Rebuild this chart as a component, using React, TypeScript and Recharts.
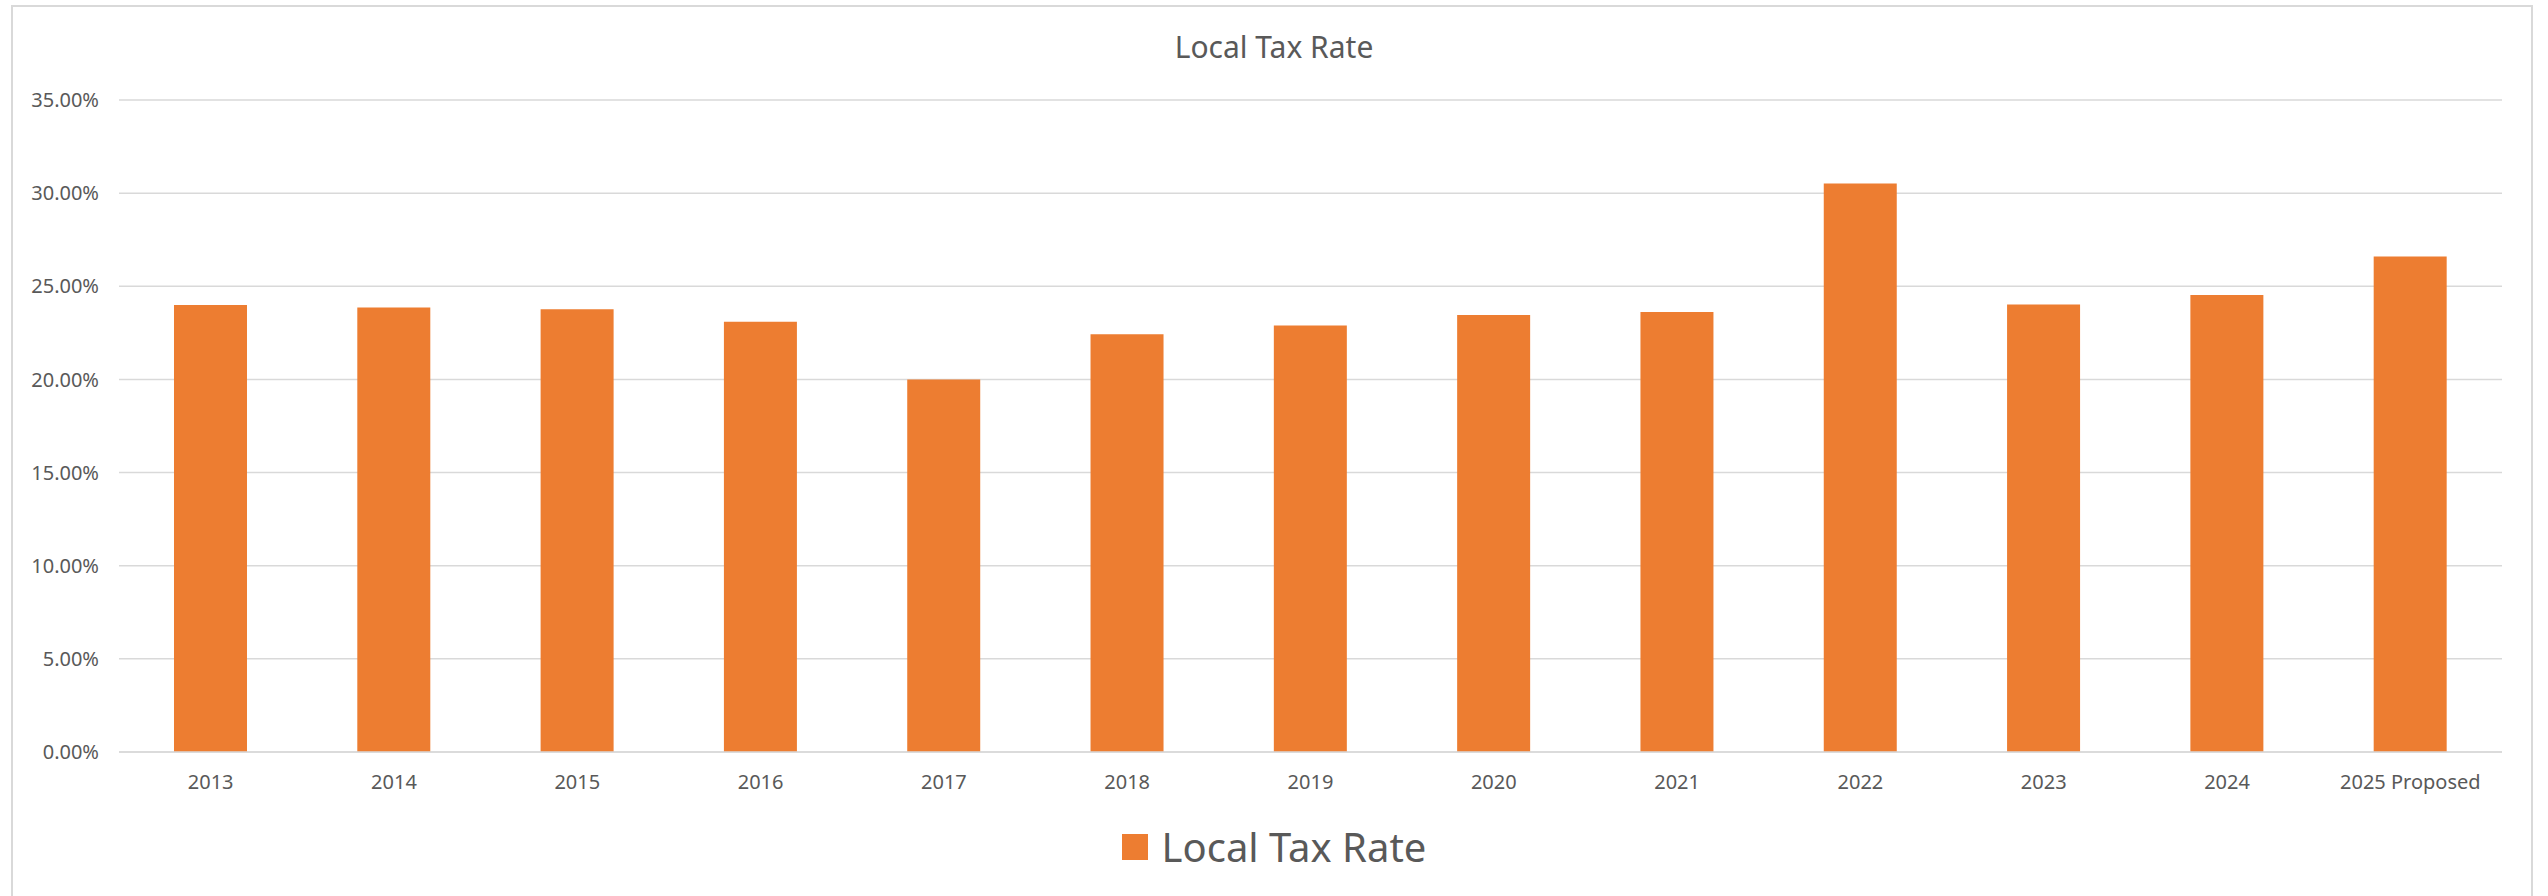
import React from 'react';
import { BarChart, Bar, XAxis, YAxis, CartesianGrid, Legend } from 'recharts';

const years = ['2013', '2014', '2015', '2016', '2017', '2018', '2019', '2020', '2021', '2022', '2023', '2024', '2025 Proposed'];
const localTaxRate = [24.0, 23.86, 23.77, 23.1, 20.0, 22.42, 22.9, 23.46, 23.62, 30.52, 24.02, 24.53, 26.6];
const yTicks = [0, 5, 10, 15, 20, 25, 30, 35];

const data = years.map((year, i) => ({ year, rate: localTaxRate[i] }));

const FONT = '"Noto Sans", sans-serif';
const TEXT = '#595959';
const GRID = '#d9d9d9';
const ORANGE = '#ED7D31';

const LegendContent = () => (
  <div style={{ display: 'flex', justifyContent: 'center', alignItems: 'center', height: 50, fontFamily: FONT }}>
    <div style={{ width: 26, height: 26, background: ORANGE, marginRight: 14 }} />
    <span style={{ fontSize: 40, lineHeight: '40px', color: TEXT }}>Local Tax Rate</span>
  </div>
);

const App: React.FC = () => {
  return (
    <div style={{ position: 'absolute', left: 0, top: 0, width: 2548, height: 896, overflow: 'hidden', background: '#fff' }}>
      <div
        style={{
          position: 'absolute',
          left: 11,
          top: 5,
          width: 2522,
          height: 900,
          border: `2px solid ${GRID}`,
          boxSizing: 'border-box',
        }}
      />
      <div
        style={{
          position: 'absolute',
          left: 0,
          top: 32,
          width: 2548,
          textAlign: 'center',
          fontFamily: FONT,
          fontSize: 30,
          lineHeight: '30px',
          color: TEXT,
        }}
      >
        Local Tax Rate
      </div>
      <div style={{ position: 'absolute', left: 0, top: 0 }}>
        <BarChart
          width={2548}
          height={896}
          data={data}
          margin={{ top: 100, right: 46, bottom: 104, left: 0 }}
          barCategoryGap="30%"
        >
          <CartesianGrid vertical={false} stroke={GRID} strokeWidth={1.5} />
          <XAxis
            dataKey="year"
            height={40}
            tickLine={false}
            axisLine={{ stroke: GRID, strokeWidth: 1.5 }}
            tickMargin={17}
            interval={0}
            tick={{ fill: TEXT, fontSize: 20, fontFamily: FONT }}
          />
          <YAxis
            width={119}
            domain={[0, 35]}
            ticks={yTicks}
            axisLine={false}
            tickLine={false}
            tickMargin={14}
            tickFormatter={(v: number) => `${v.toFixed(2)}%`}
            tick={{ fill: TEXT, fontSize: 20, fontFamily: FONT }}
          />
          <Legend
            verticalAlign="middle"
            align="center"
            layout="horizontal"
            wrapperStyle={{ top: 822, left: 0, width: 2548 }}
            content={<LegendContent />}
          />
          <Bar dataKey="rate" name="Local Tax Rate" fill={ORANGE} isAnimationActive={false} />
        </BarChart>
      </div>
    </div>
  );
};

export default App;
